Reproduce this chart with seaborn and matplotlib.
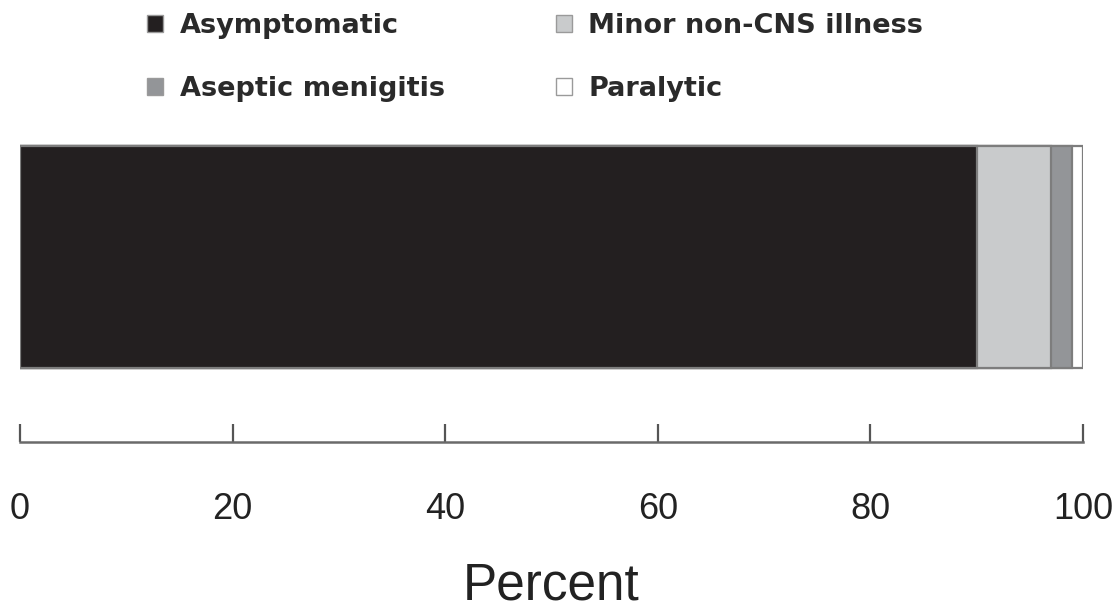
import matplotlib
matplotlib.use("Agg")
import matplotlib.pyplot as plt
import seaborn as sns
import pandas as pd
from matplotlib.patches import Patch

# Outcome of poliovirus infection (percent of infections)
outcomes = ["Asymptomatic", "Minor non-CNS illness", "Aseptic menigitis", "Paralytic"]
percents = [90, 7, 2, 1]
colors = ["#231f20", "#c9cbcc", "#939598", "#ffffff"]
xticks = [0, 20, 40, 60, 80, 100]

sns.set_theme(style="white")
narrow = ["Liberation Sans Narrow", "Liberation Sans", "DejaVu Sans"]

df = pd.DataFrame({"outcome": outcomes, "percent": percents, "color": colors})
df["cum"] = df["percent"].cumsum()
df["group"] = "infection"

fig = plt.figure(figsize=(11.12, 6.13), dpi=100)
W, H = 1112, 613
ax = fig.add_axes([20 / W, 1 - 374 / H, (1083 - 20) / W, (374 - 140) / H])

# stacked bar: draw cumulative totals from the largest down
for _, row in df.iloc[::-1].iterrows():
    sns.barplot(x=[row["cum"]], y=[row["group"]], orient="h", color=row["color"],
                saturation=1, width=0.8, edgecolor="#7d7d7d", linewidth=1.6, ax=ax)

ax.set_xlim(0, 100)
ax.set_ylim(0.42, -0.42)
ax.set_yticks([])
ax.set_ylabel("")

for s in ["top", "right", "left"]:
    ax.spines[s].set_visible(False)
ax.spines["bottom"].set_position(("outward", 49))
ax.spines["bottom"].set_color("#6a6a6a")
ax.spines["bottom"].set_linewidth(1.8)
ax.spines["bottom"].set_bounds(0, 100)

ax.set_xticks(xticks)
ax.set_xticklabels([str(t) for t in xticks], family=narrow, fontsize=26, color="#222222")
ax.tick_params(axis="x", direction="in", length=13, width=1.6, color="#555555", pad=36,
               bottom=True)
ax.set_xlabel("Percent", family=narrow, fontsize=37, color="#222222", labelpad=25)

# legend: two columns, filled column by column
order = [0, 2, 1, 3]
handles = [Patch(facecolor=colors[i], edgecolor="#9a9a9a", linewidth=1.0, label=outcomes[i])
           for i in order]
fig.legend(handles=handles, ncol=2, loc="upper left", bbox_to_anchor=(147 / W, 1 - 13 / H),
           frameon=False, borderpad=0, borderaxespad=0, handlelength=0.6, handleheight=0.6,
           handletextpad=0.6, labelspacing=1.36, columnspacing=4.1,
           prop={"family": "DejaVu Sans", "weight": "bold", "size": 19.5},
           labelcolor="#2a2a2a")

fig.savefig("out.png", dpi=100)
